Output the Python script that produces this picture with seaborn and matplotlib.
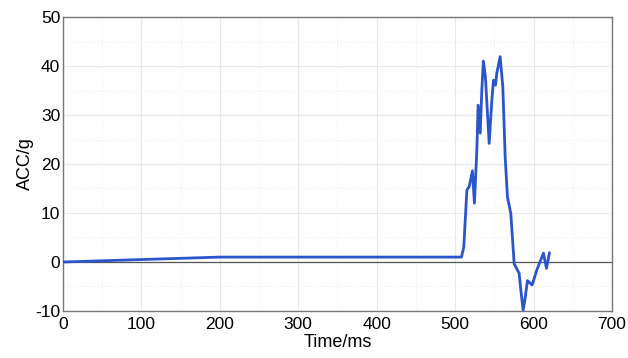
import numpy as np
import pandas as pd
import seaborn as sns
import matplotlib.pyplot as plt
from matplotlib.ticker import MultipleLocator

# Acceleration trace
time_ms = [0, 50, 100, 150, 200, 300, 400, 508, 511, 515, 518, 522, 524.6, 527.7,
           529.3, 532, 534, 536, 538.6, 543.4, 546.8, 548.9, 551.5, 553.1, 557.4,
           560.8, 563.8, 566.7, 571, 575.3, 581.6, 584.2, 586.7, 588.9, 592.2,
           598.2, 604.2, 612.6, 616.5, 620.3]
acc_g = [0, 0.25, 0.5, 0.75, 1.0, 1.0, 1.0, 1.0, 3.0, 14.7, 15.4, 18.6, 12.0, 22.9,
         32.0, 26.3, 35.0, 41.0, 37.8, 24.2, 33.0, 37.1, 36.1, 38.5, 41.9,
         35.8, 21.5, 13.3, 9.9, -0.4, -2.3, -6.4, -9.8, -7.8, -3.8,
         -4.7, -1.6, 1.8, -1.3, 1.9]

df = pd.DataFrame({'Time': time_ms, 'ACC': acc_g})

sns.set_style('white')
plt.rcParams['font.family'] = ['Liberation Sans', 'DejaVu Sans']
plt.rcParams['axes.unicode_minus'] = False

fig = plt.figure(figsize=(6.28, 3.58), dpi=100)
ax = fig.add_axes([0.1003, 0.1313, 0.8742, 0.8212])

sns.lineplot(data=df, x='Time', y='ACC', color='#2a55cc', linewidth=2, ax=ax, zorder=3)

ax.axhline(0, color='#555555', linewidth=0.9, zorder=2)

ax.set_xlim(0, 700)
ax.set_ylim(-10, 50)
ax.xaxis.set_major_locator(MultipleLocator(100))
ax.xaxis.set_minor_locator(MultipleLocator(50))
ax.yaxis.set_major_locator(MultipleLocator(10))
ax.yaxis.set_minor_locator(MultipleLocator(5))
ax.grid(which='major', color='#e8e8e8', linewidth=0.8)
ax.grid(which='minor', color='#f0f0f0', linewidth=0.6, linestyle=(0, (2, 2)))
ax.tick_params(which='both', length=0, labelsize=12.5, labelcolor='black')
ax.tick_params(axis='x', pad=4)
ax.tick_params(axis='y', pad=2)

for s in ax.spines.values():
    s.set_color('#777777')
    s.set_linewidth(1)

ax.set_xlabel('Time/ms', fontsize=13, color='black', labelpad=2)
ax.set_ylabel('ACC/g', fontsize=13, color='black', labelpad=1)

plt.savefig('out.png', dpi=100)
